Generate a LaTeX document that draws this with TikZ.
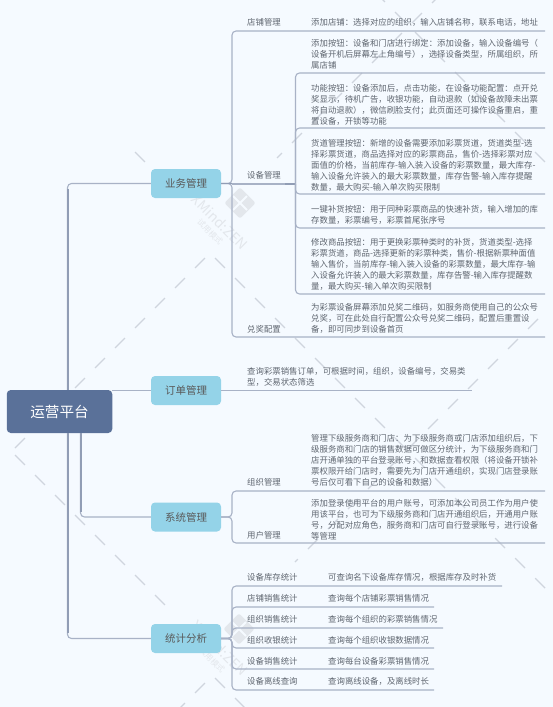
\documentclass[tikz,border=0pt]{standalone}
\usepackage{fontspec}
\setmainfont{Noto Sans CJK SC}
\definecolor{bgc}{HTML}{F5FAFF}
\definecolor{rootc}{HTML}{5A7199}
\definecolor{mainc}{HTML}{94D3E8}
\definecolor{linec}{HTML}{A8B2C6}
\definecolor{trunkc}{HTML}{919DB5}
\definecolor{txtc}{HTML}{5F6670}
\definecolor{markc}{HTML}{E3E7EC}
\definecolor{dashc}{HTML}{CFD5DE}
\tikzset{
  rootbox/.style={fill=rootc,rounded corners=4pt,minimum width=105.5pt,minimum height=43pt,inner sep=0pt,text=white,font=\fontsize{14.6}{16}\selectfont},
  mainbox/.style={fill=mainc,rounded corners=4pt,minimum width=70pt,minimum height=29pt,inner sep=0pt,text=black!65,font=\fontsize{10.5}{12}\selectfont},
  lab/.style={anchor=west,inner sep=0pt,text=txtc,font=\fontsize{8.4}{11}\selectfont},
  para/.style={anchor=north west,inner sep=0pt,align=left,text=txtc,font=\fontsize{8.4}{11}\selectfont},
  trunk/.style={draw=trunkc,line width=2pt},
  conn/.style={draw=linec,line width=1.1pt,rounded corners=4pt},
  straight/.style={draw=linec,line width=1.1pt},
  stub/.style={draw=trunkc,line width=1.1pt},
  wdash/.style={draw=dashc,line width=1.2pt,dash pattern=on 14pt off 14.3pt},
  wname/.style={text=markc,rotate=-45,inner sep=0pt,font=\fontsize{14}{16}\selectfont},
  wsub/.style={text=markc,rotate=-45,inner sep=0pt,font=\fontsize{8}{10}\selectfont},
  wlogo/.style={fill=markc,rounded corners=2pt,rotate=45,minimum size=22pt,inner sep=0pt},
  wcross/.style={draw=bgc,line width=2pt},
}
\begin{document}
\begin{tikzpicture}[x=1pt,y=-1pt]
\useasboundingbox (0,0) rectangle (553,707);
\fill[bgc] (0,0) rectangle (553,707);
% watermark
\draw[wdash] (442,-7) -- (277,158);
\draw[wdash] (205,258) -- (5,458);
\draw[wdash] (538,319) -- (295,562);
\draw[wdash] (205,683) -- (175,713);
\draw[wdash] (375,-8) -- (553,170);
\draw[wdash] (135,152) -- (145,162);
\draw[wdash] (215,258) -- (553,596);
\draw[wdash] (15,455) -- (165,605);
\draw[wdash] (215,678) -- (245,708);
\node[wlogo] (logoa) at (240,203) {};
\node[wlogo] (logob) at (239,629) {};
\draw[wcross] (233,196) -- (247,210) (247,196) -- (233,210);
\draw[wcross] (232,622) -- (246,636) (246,622) -- (232,636);
\node[wname] (wma) at (220,222) {XMind:ZEN};
\node[wname] (wmb) at (220,648) {XMind:ZEN};
\node[wsub] (wsa) at (210,232) {试用模式};
\node[wsub] (wsb) at (212,660) {试用模式};
% nodes
\node[rootbox] (root) at (59.5,411.5) {运营平台};
\node[mainbox] (biz) at (186,183.5) {业务管理};
\node[mainbox] (ord) at (186,390.5) {订单管理};
\node[mainbox] (sys) at (186,517) {系统管理};
\node[mainbox] (sta) at (186,638.5) {统计分析};
% second-level labels
\node[lab] (shop) at (247,22.7) {店铺管理};
\node[lab] (dev) at (247,175.7) {设备管理};
\node[lab] (pri) at (247,329) {兑奖配置};
\node[lab] (org) at (247,482) {组织管理};
\node[lab] (usr) at (247,535) {用户管理};
\node[lab] (s1) at (247,577.7) {设备库存统计};
\node[lab] (s2) at (247,598.7) {店铺销售统计};
\node[lab] (s3) at (247,619.6) {组织销售统计};
\node[lab] (s4) at (247,640.3) {组织收银统计};
\node[lab] (s5) at (247,660.8) {设备销售统计};
\node[lab] (s6) at (247,681.7) {设备离线查询};
% detail text
\node[lab] (shopd) at (311,22.7) {添加店铺：选择对应的组织，输入店铺名称，联系电话，地址};
\node[para] (d1) at (311,39) {添加按钮：设备和门店进行绑定：添加设备，输入设备编号（\\设备开机后屏幕左上角编号），选择设备类型，所属组织，所\\属店铺};
\node[para] (d2) at (311,84) {功能按钮：设备添加后，点击功能，在设备功能配置：点开兑\\奖显示，待机广告，收银功能，自动退款（如设备故障未出票\\将自动退款），微信刷脸支付；此页面还可操作设备重启，重\\置设备，开锁等功能};
\node[para] (d3) at (311,139.3) {货道管理按钮：新增的设备需要添加彩票货道，货道类型-选\\择彩票货道，商品选择对应的彩票商品，售价-选择彩票对应\\面值的价格，当前库存-输入装入设备的彩票数量，最大库存-\\输入设备允许装入的最大彩票数量，库存告警-输入库存提醒\\数量，最大购买-输入单次购买限制};
\node[para] (d4) at (311,205.3) {一键补货按钮：用于同种彩票商品的快速补货，输入增加的库\\存数量，彩票编号，彩票首尾张序号};
\node[para] (d5) at (311,238.3) {修改商品按钮：用于更换彩票种类时的补货，货道类型-选择\\彩票货道，商品-选择更新的彩票种类，售价-根据新票种面值\\输入售价，当前库存-输入装入设备的彩票数量，最大库存-输\\入设备允许装入的最大彩票数量，库存告警-输入库存提醒数\\量，最大购买-输入单次购买限制};
\node[para] (d6) at (311,302.7) {为彩票设备屏幕添加兑奖二维码，如服务商使用自己的公众号\\兑奖，可在此处自行配置公众号兑奖二维码，配置后重置设\\备，即可同步到设备首页};
\node[para] (o1) at (247,367) {查询彩票销售订单，可根据时间，组织，设备编号，交易类\\型，交易状态筛选};
\node[para] (g1) at (311,434.3) {管理下级服务商和门店：为下级服务商或门店添加组织后，下\\级服务商和门店的销售数据可做区分统计，为下级服务商和门\\店开通单独的平台登录账号，和数据查看权限（将设备开锁补\\票权限开给门店时，需要先为门店开通组织，实现门店登录账\\号后仅可看下自己的设备和数据）};
\node[para] (g2) at (311,498.7) {添加登录使用平台的用户账号，可添加本公司员工作为用户使\\用该平台，也可为下级服务商和门店开通组织后，开通用户账\\号，分配对应角色，服务商和门店可自行登录账号，进行设备\\等管理};
\node[lab] (t1) at (328,577.7) {可查询名下设备库存情况，根据库存及时补货};
\node[lab] (t2) at (328,598.7) {查询每个店铺彩票销售情况};
\node[lab] (t3) at (328,619.6) {查询每个组织的彩票销售情况};
\node[lab] (t4) at (328,640.3) {查询每个组织收银数据情况};
\node[lab] (t5) at (328,660.8) {查询每台设备彩票销售情况};
\node[lab] (t6) at (328,681.7) {查询离线设备，及离线时长};
% free ends
\coordinate (e0) at (545,31);
\coordinate (e1) at (545,73);
\coordinate (e2) at (545,128);
\coordinate (e3) at (545,194);
\coordinate (e4) at (545,228);
\coordinate (e5) at (545,294);
\coordinate (e6) at (545,337);
\coordinate (e7) at (472,390.5);
\coordinate (e8) at (545,491);
\coordinate (e9) at (545,543);
\coordinate (f1) at (502,586);
\coordinate (f2) at (434,607);
\coordinate (f3) at (443,628);
\coordinate (f4) at (434,648);
\coordinate (f5) at (434,669);
\coordinate (f6) at (434,690);
% root connectors
\path[conn] (root.north -| 67.5,0) |- (biz.west);
\path[conn] (root.south -| 67.5,0) |- (sta.west);
\path[conn] (root.south -| 80.5,0) |- (sys.west);
\path[trunk] (root.north -| 67.5,0) -- (67.5,189);
\path[trunk] (root.south -| 67.5,0) -- (67.5,633);
\path[trunk] (root.south -| 80.5,0) -- (80.5,512);
\path[straight] (ord.west) -- (ord.west -| root.east);
% biz
\path[conn] (biz.east) -- (232,183.5) |- (e0);
\path[conn] (biz.east) -- (232,183.5) |- (e6);
\path[straight] (232,184) -- (285,184);
\path[stub] (285,184) -- (295.5,184);
\path[stub] (biz.east) -- (232,183.5);
\path[conn] (295.5,184) |- (e1);
\path[conn] (295.5,184) |- (e2);
\path[conn] (295.5,184) |- (e3);
\path[conn] (295.5,184) |- (e4);
\path[conn] (295.5,184) |- (e5);
\path[straight] (ord.east) -- (e7);
% sys
\path[conn] (sys.east) -- (232,517) |- (e8);
\path[conn] (sys.east) -- (232,517) |- (e9);
% sta
\path[conn] (sta.east) -- (232,638.5) |- (f1);
\path[conn] (sta.east) -- (232,638.5) |- (f2);
\path[conn] (sta.east) -- (232,638.5) |- (f3);
\path[conn] (sta.east) -- (232,638.5) |- (f4);
\path[conn] (sta.east) -- (232,638.5) |- (f5);
\path[conn] (sta.east) -- (232,638.5) |- (f6);
\end{tikzpicture}
\end{document}
